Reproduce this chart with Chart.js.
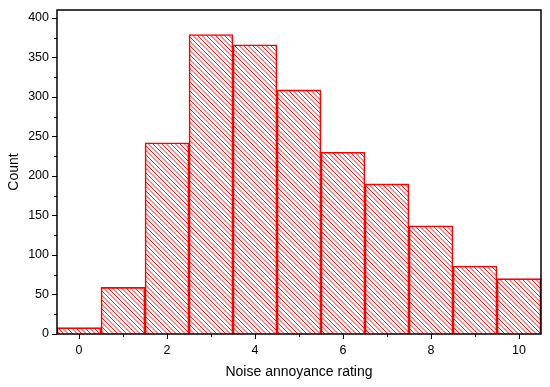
<!DOCTYPE html>
<html>
<head>
<meta charset="utf-8">
<script src="https://cdn.jsdelivr.net/npm/chart.js@4/dist/chart.umd.min.js"></script>
<style>
  html, body { margin: 0; padding: 0; background: #fff; }
  #wrap { width: 550px; height: 387px; }
</style>
</head>
<body>
<div id="wrap"><canvas id="histChart" width="550" height="387"></canvas></div>
<script>
// histogram data
const ratings = [0, 1, 2, 3, 4, 5, 6, 7, 8, 9, 10];
const counts = [8, 59, 242, 379, 366, 309, 230, 190, 137, 86, 70];
const yTicks = [0, 50, 100, 150, 200, 250, 300, 350, 400];
const xTicks = [0, 2, 4, 6, 8, 10];

// "\" hatching, about 4.5px between lines
function hatchPattern() {
    const s = 9, step = s / 2;
    const c = document.createElement('canvas');
    c.width = s; c.height = s;
    const g = c.getContext('2d');
    g.strokeStyle = 'rgba(255,0,0,0.9)';
    g.lineWidth = 1;
    g.beginPath();
    for (let k = -s; k <= s; k += step) {
        g.moveTo(k - 1, -1);
        g.lineTo(k + s + 1, s + 1);
    }
    g.stroke();
    return g.createPattern(c, 'repeat');
}

// frame plus major / minor tick marks drawn outward
const frameTicks = {
    id: 'frameTicks',
    afterDraw(chart) {
        const {ctx, chartArea: a, scales: {x, y}} = chart;
        ctx.save();
        ctx.strokeStyle = '#000';
        ctx.lineWidth = 1.5;
        ctx.strokeRect(a.left, a.top, a.right - a.left, a.bottom - a.top);
        ctx.lineWidth = 1;
        ctx.beginPath();
        for (let v = 0; v <= 400; v += 25) {
            const py = Math.round(y.getPixelForValue(v)) + 0.5;
            const len = v % 50 === 0 ? 5 : 3;
            ctx.moveTo(a.left - len, py); ctx.lineTo(a.left, py);
        }
        ratings.forEach(r => {
            const px = Math.round(x.getPixelForValue(r)) + 0.5;
            const len = xTicks.includes(r) ? 5 : 3;
            ctx.moveTo(px, a.bottom); ctx.lineTo(px, a.bottom + len);
        });
        ctx.stroke();
        ctx.restore();
    }
};

const tickFont = { family: '"Liberation Sans", Arial, sans-serif', size: 12.5 };
const titleFont = { family: '"Liberation Sans", Arial, sans-serif', size: 14 };

new Chart(document.getElementById('histChart'), {
    type: 'bar',
    data: {
        datasets: [{
            data: ratings.map((r, i) => ({ x: r, y: counts[i] })),
            backgroundColor: hatchPattern(),
            borderColor: '#ff0000',
            borderWidth: 1,
            barPercentage: 1,
            categoryPercentage: 1
        }]
    },
    options: {
        responsive: false,
        animation: false,
        layout: { padding: { top: 10, right: 9, left: 0, bottom: 0 } },
        plugins: { legend: { display: false }, tooltip: { enabled: false } },
        scales: {
            x: {
                type: 'linear',
                offset: false,
                min: -0.5,
                max: 10.5,
                grid: { display: false, drawTicks: false },
                border: { display: false },
                afterBuildTicks: s => { s.ticks = xTicks.map(v => ({ value: v })); },
                afterFit: s => { s.height = 53; s.paddingLeft = 0; s.paddingRight = 0; },
                ticks: { color: '#000', font: tickFont, padding: 9, maxRotation: 0 },
                title: {
                    display: true, text: 'Noise annoyance rating', color: '#000',
                    font: titleFont, padding: { bottom: 6 }
                }
            },
            y: {
                min: 0,
                max: 410,
                grid: { display: false, drawTicks: false },
                border: { display: false },
                afterBuildTicks: s => { s.ticks = yTicks.map(v => ({ value: v })); },
                afterFit: s => { s.width = 57; s.paddingTop = 0; s.paddingBottom = 0; },
                ticks: { color: '#000', font: tickFont, padding: 8 },
                title: {
                    display: true, text: 'Count', color: '#000',
                    font: titleFont, padding: { top: 6 }
                }
            }
        }
    },
    plugins: [frameTicks]
});
</script>
</body>
</html>
